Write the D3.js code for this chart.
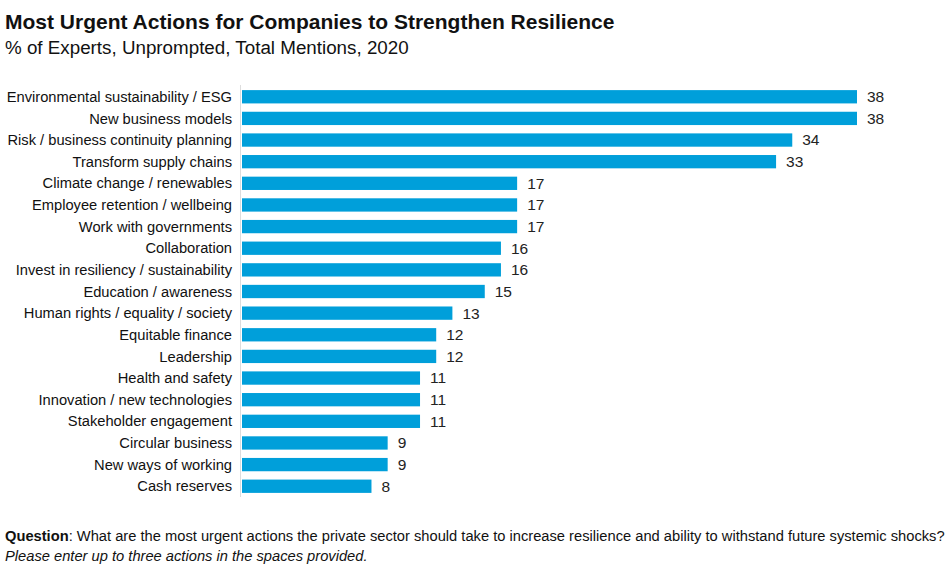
<!DOCTYPE html>
<html><head><meta charset="utf-8">
<script src="https://cdn.jsdelivr.net/npm/d3@7"></script>
<style>body{margin:0;background:#fff}svg{display:block}text{font-family:"Liberation Sans",Arial,sans-serif}</style>
</head><body><svg id="c" width="950" height="565"></svg>
<script>
const categories = ["Environmental sustainability / ESG","New business models","Risk / business continuity planning","Transform supply chains ","Climate change / renewables","Employee retention / wellbeing","Work with governments","Collaboration","Invest in resiliency / sustainability","Education / awareness","Human rights / equality / society","Equitable finance","Leadership","Health and safety","Innovation / new technologies","Stakeholder engagement","Circular business","New ways of working","Cash reserves"];
const values = [38,38,34,33,17,17,17,16,16,15,13,12,12,11,11,11,9,9,8];
const title = "Most Urgent Actions for Companies to Strengthen Resilience";
const subtitle = "% of Experts, Unprompted, Total Mentions, 2020";

const svg = d3.select("#c");
const x0 = 242;
const x = d3.scaleLinear().domain([0,38]).range([x0,857]);
const y = d3.scaleBand().domain(categories).range([86,497]).paddingInner(0.385).paddingOuter(0.19);

svg.append("text").attr("x",5).attr("y",29).attr("font-size",21).attr("font-weight","bold").attr("fill","#111").text(title);
svg.append("text").attr("x",5).attr("y",54).attr("font-size",18.8).attr("fill","#111").text(subtitle);

svg.append("line").attr("x1",240.5).attr("x2",240.5).attr("y1",85).attr("y2",497).attr("stroke","#ddd").attr("stroke-width",1);

svg.selectAll("rect.bar").data(values).join("rect").attr("class","bar")
  .attr("x",x0).attr("y",(d,i)=>y(categories[i])).attr("width",d=>x(d)-x0).attr("height",y.bandwidth()).attr("fill","#009fda");

svg.selectAll("text.lab").data(categories).join("text").attr("class","lab")
  .attr("x",232).attr("y",d=>y(d)+y.bandwidth()/2).attr("dy","0.35em").attr("text-anchor","end")
  .attr("font-size",14.7).attr("fill","#111").text(d=>d);

svg.selectAll("text.val").data(values).join("text").attr("class","val")
  .attr("x",d=>x(d)+10).attr("y",(d,i)=>y(categories[i])+y.bandwidth()/2).attr("dy","0.35em")
  .attr("font-size",15.5).attr("fill","#222").text(d=>d);

const q = svg.append("text").attr("x",5).attr("y",541).attr("font-size",14.7).attr("fill","#111");
q.append("tspan").attr("font-weight","bold").text("Question");
q.append("tspan").text(": What are the most urgent actions the private sector should take to increase resilience and ability to withstand future systemic shocks?");
svg.append("text").attr("x",5).attr("y",561).attr("font-size",14.7).attr("font-style","italic").attr("fill","#111").text("Please enter up to three actions in the spaces provided.");
</script></body></html>
